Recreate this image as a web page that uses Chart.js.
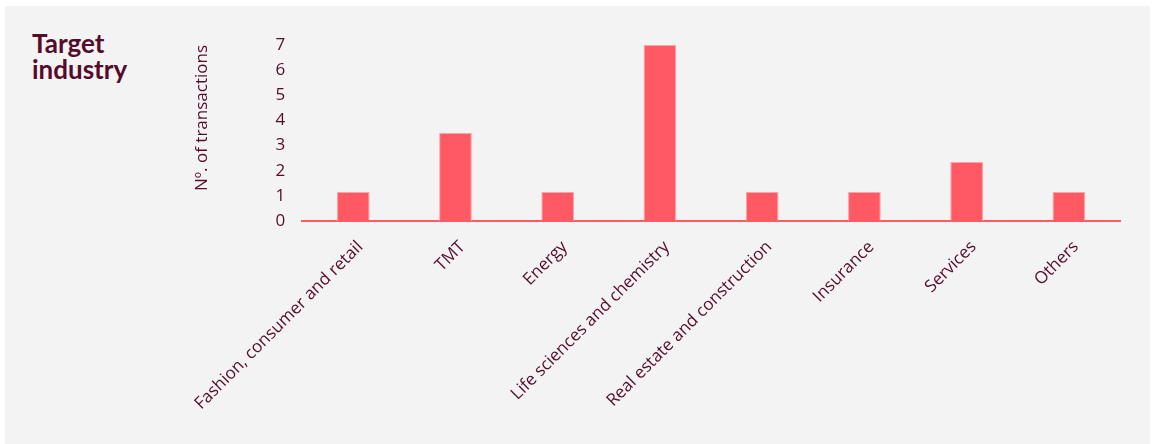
<!DOCTYPE html>
<html>
<head>
<meta charset="utf-8">
<script src="https://cdn.jsdelivr.net/npm/chart.js@4"></script>
<style>
  html, body { margin: 0; padding: 0; background: #fff; }
  #panel { position: absolute; left: 5px; top: 6px; width: 1145px; height: 438px; background: #f3f3f3; }
  #title { position: absolute; left: 27px; top: 24px; font-family: Lato, sans-serif; font-weight: bold;
           font-size: 26px; line-height: 26px; color: #560b2b; }
  canvas { position: absolute; left: 0; top: 0; }
</style>
</head>
<body>
<div id="panel">
  <div id="title">Target<br>industry</div>
  <canvas id="industryChart" width="1145" height="438"></canvas>
</div>
<script>
// categories and number of transactions
const industries = ['Fashion, consumer and retail', 'TMT', 'Energy', 'Life sciences and chemistry',
  'Real estate and construction', 'Insurance', 'Services', 'Others'];
const transactions = [1.15, 3.5, 1.15, 7, 1.15, 1.15, 2.35, 1.15];
const yTicks = [0, 1, 2, 3, 4, 5, 6, 7];

const textColor = '#560b2b';
const barColor = '#ff5a63';

let ctx = document.getElementById('industryChart').getContext('2d');
let industryChart = new Chart(ctx, {
  type: 'bar',
  data: {
    labels: industries,
    datasets: [{
      label: 'Nº. of transactions',
      data: transactions,
      backgroundColor: barColor,
      borderColor: '#ffa3a8',
      borderWidth: 1,
      barPercentage: 0.32,
      categoryPercentage: 1
    }]
  },
  options: {
    responsive: false,
    animation: false,
    layout: { padding: { left: 187, right: 30, top: 39, bottom: 18 } },
    plugins: { legend: { display: false }, tooltip: { enabled: false } },
    scales: {
      x: {
        grid: { display: false, drawTicks: false },
        border: { color: barColor, width: 2 },
        // x scale would be capped at half the height and clip the long labels
        afterFit: (scale) => { scale.height = 205; },
        ticks: {
          color: textColor,
          font: { family: 'Open Sans', size: 17 },
          autoSkip: false,
          minRotation: 45,
          maxRotation: 45,
          labelOffset: 7,
          padding: 16
        }
      },
      y: {
        min: 0,
        max: 7,
        grid: { display: false, drawTicks: false },
        border: { display: false },
        afterBuildTicks: (scale) => { scale.ticks = yTicks.map(v => ({ value: v })); },
        ticks: {
          color: textColor,
          font: { family: 'Open Sans', size: 17 },
          padding: 17
        },
        title: {
          display: true,
          text: 'Nº. of transactions',
          align: 'end',
          color: textColor,
          font: { family: 'Open Sans', size: 17 },
          padding: { top: 0, bottom: 46 }
        }
      }
    }
  }
});
</script>
</body>
</html>
